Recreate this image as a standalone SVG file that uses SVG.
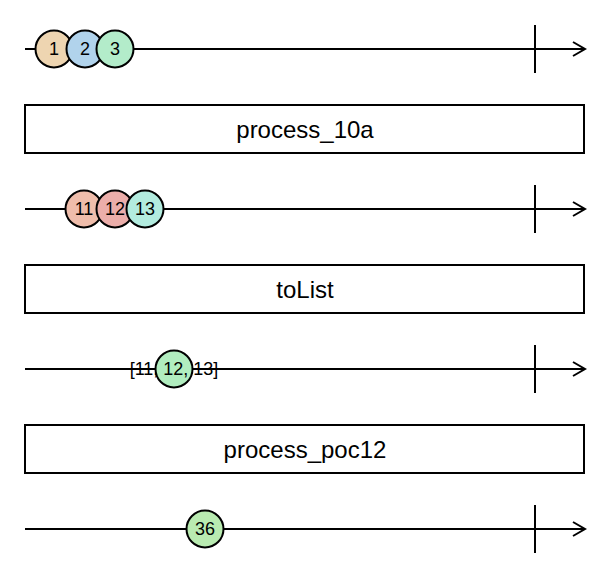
<svg xmlns="http://www.w3.org/2000/svg" width="610" height="580" viewBox="0 0 610 580">
<style>
.tl{stroke:#000;stroke-width:2;fill:none}
.ah{stroke:#000;stroke-width:2;fill:none}
.m{stroke:#000;stroke-width:2}
.ml{font-family:"Liberation Sans",Arial,sans-serif;font-size:18px;text-anchor:middle;dominant-baseline:central;fill:#000}
.op{fill:#fff;stroke:#000;stroke-width:2}
.ot{font-family:"Liberation Sans",Arial,sans-serif;font-size:24px;text-anchor:middle;dominant-baseline:central;fill:#000}
</style>
<g id="connectors">
<g id="timeline1"><line class="tl" x1="25" y1="49" x2="585" y2="49"/><line class="tl" x1="535" y1="25" x2="535" y2="73"/><path class="ah" d="M573,42 L585,49 L573,56"/></g>
<g id="timeline2"><line class="tl" x1="25" y1="209" x2="585" y2="209"/><line class="tl" x1="535" y1="185" x2="535" y2="233"/><path class="ah" d="M573,202 L585,209 L573,216"/></g>
<g id="timeline3"><line class="tl" x1="25" y1="369" x2="585" y2="369"/><line class="tl" x1="535" y1="345" x2="535" y2="393"/><path class="ah" d="M573,362 L585,369 L573,376"/></g>
<g id="timeline4"><line class="tl" x1="25" y1="529" x2="585" y2="529"/><line class="tl" x1="535" y1="505" x2="535" y2="553"/><path class="ah" d="M573,522 L585,529 L573,536"/></g>
</g>
<g id="m1"><circle class="m" cx="54" cy="49" r="18.5" fill="#eed5b1"/><text class="ml" x="54" y="49">1</text></g>
<g id="m2"><circle class="m" cx="85" cy="49" r="18.5" fill="#b1d3ec"/><text class="ml" x="85" y="49">2</text></g>
<g id="m3"><circle class="m" cx="115" cy="49" r="18.5" fill="#b3ecca"/><text class="ml" x="115" y="49">3</text></g>
<g id="op1"><rect class="op" x="25" y="105" width="559" height="48"/><text class="ot" x="305" y="129">process_10a</text></g>
<g id="m11"><circle class="m" cx="84" cy="209" r="18.5" fill="#efbdab"/><text class="ml" x="84" y="209">11</text></g>
<g id="m12"><circle class="m" cx="115" cy="209" r="18.5" fill="#ecaeaa"/><text class="ml" x="115" y="209">12</text></g>
<g id="m13"><circle class="m" cx="145" cy="209" r="18.5" fill="#b3ecdf"/><text class="ml" x="145" y="209">13</text></g>
<g id="op2"><rect class="op" x="25" y="265" width="559" height="48"/><text class="ot" x="305" y="289">toList</text></g>
<g id="mlist"><circle class="m" cx="174" cy="369" r="18.5" fill="#b1edbf"/><text class="ml" x="174" y="369">[11, 12, 13]</text></g>
<g id="op3"><rect class="op" x="25" y="425" width="559" height="48"/><text class="ot" x="305" y="449">process_poc12</text></g>
<g id="m36"><circle class="m" cx="205" cy="529" r="18.5" fill="#b9ebb1"/><text class="ml" x="205" y="529">36</text></g>
</svg>
